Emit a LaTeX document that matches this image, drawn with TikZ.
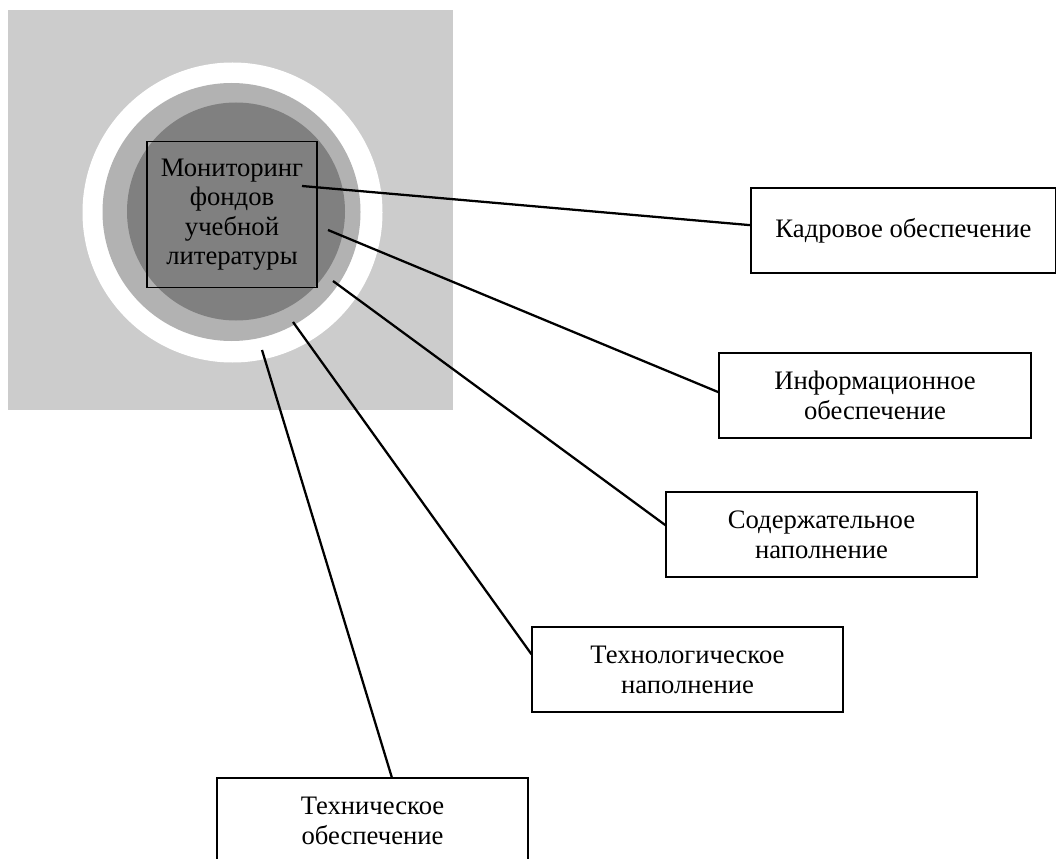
\documentclass[tikz,border=0pt]{standalone}
\usepackage{fontspec}
\setmainfont{Liberation Serif}
\usepackage{tikz}

\begin{document}
\begin{tikzpicture}[x=0.75pt, y=-0.75pt,
  part/.style={draw, line width=0.9pt, fill=white, align=center,
    minimum height=63.75pt, inner sep=0pt,
    font=\fontsize{20}{22.5}\selectfont},
  link/.style={line width=1.7pt}]
  \useasboundingbox (0,0) rectangle (1056,859);
  \fill[black!20] (8,10) rectangle (453,410);
  \fill[white] (232.5,212.5) circle[radius=150];
  \fill[black!30] (231.5,212) circle[radius=129];
  \fill[black!50] (236,211.5) circle[radius=109];
  \node[draw, line width=0.9pt, minimum width=127.5pt, minimum height=110pt,
    align=center, inner sep=0pt, font=\fontsize{20}{22}\selectfont]
    (monitor) at (232,214.5) {Мониторинг\\фондов\\учебной\\литературы};

  \node[part, minimum width=228.75pt] (kadr) at (903.5,230.5) {Кадровое обеспечение};
  \node[part, minimum width=234pt] (info) at (875,395.5) {Информационное\\обеспечение};
  \node[part, minimum width=233.25pt] (soder) at (821.5,534.5) {Содержательное\\наполнение};
  \node[part, minimum width=233.25pt] (tehnol) at (687.5,669.5) {Технологическое\\наполнение};
  \node[part, minimum width=233.25pt] (tehn) at (372.5,820.5) {Техническое\\обеспечение};

  \coordinate (p1) at (302,186);
  \coordinate (p2) at (328,230);
  \coordinate (p3) at (333,281);
  \coordinate (p4) at (293,322);
  \coordinate (p5) at (262,350);

  \draw[link] (p1) -- ([yshift=4pt]kadr.west);
  \draw[link] (p2) -- ([yshift=2.5pt]info.west);
  \draw[link] (p3) -- ([yshift=7pt]soder.west);
  \draw[link] (p4) -- ([yshift=11.5pt]tehnol.west);
  \draw[link] (p5) -- ([xshift=14.5pt]tehn.north);
\end{tikzpicture}
\end{document}
